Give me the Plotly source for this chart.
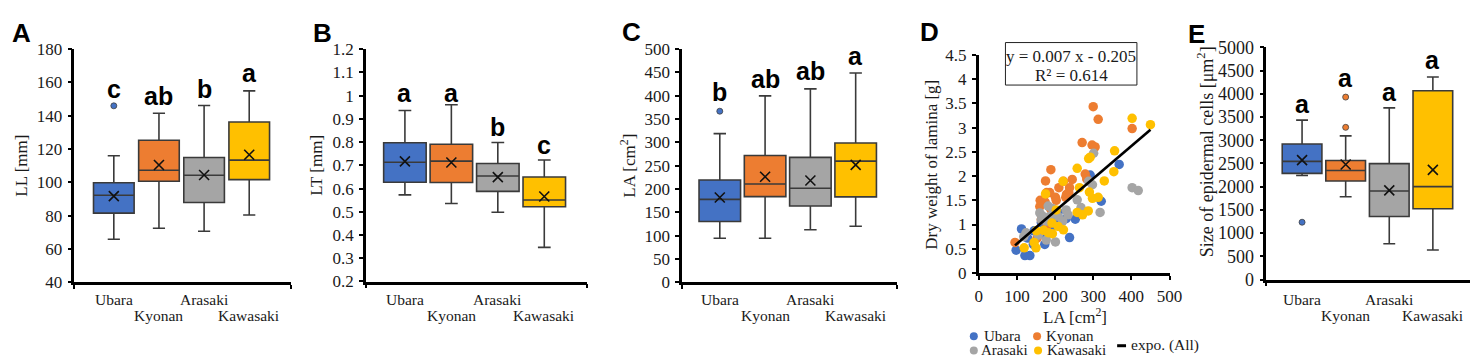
import numpy as np
import plotly.graph_objects as go

W, H = 1478, 360
SERIF = "Liberation Serif, Times New Roman, serif"
SANS = "Liberation Sans, Arial, sans-serif"
TXT = "#1a1a1a"

sites = ["Ubara", "Kyonan", "Arasaki", "Kawasaki"]
colors = ["#4472C4", "#ED7D31", "#A5A5A5", "#FFC000"]

# ---- Panel A: LL [mm]
ll_low = [65.9, 72.5, 70.7, 80.5]
ll_q1 = [81.6, 100.7, 88.0, 101.7]
ll_med = [92.3, 107.3, 104.3, 113.4]
ll_q3 = [99.8, 125.3, 115.0, 136.3]
ll_high = [116.0, 141.5, 146.2, 155.0]
ll_mean = [91.8, 110.5, 104.5, 116.6]
ll_out_site = [1]
ll_out_val = [146.0]
ll_letters = ["c", "ab", "b", "a"]
ll_letter_y = [150.0, 146.0, 150.0, 159.5]

# ---- Panel B: LT [mm]
lt_low = [0.573, 0.536, 0.498, 0.347]
lt_q1 = [0.627, 0.626, 0.588, 0.522]
lt_med = [0.713, 0.718, 0.654, 0.551]
lt_q3 = [0.797, 0.791, 0.708, 0.650]
lt_high = [0.936, 0.961, 0.798, 0.723]
lt_mean = [0.717, 0.712, 0.649, 0.566]
lt_letters = ["a", "a", "b", "c"]
lt_letter_y = [0.967, 0.967, 0.823, 0.746]

# ---- Panel C: LA [cm2]
la_low = [94.6, 94.6, 112.8, 120.3]
la_q1 = [130.5, 184.0, 164.0, 183.5]
la_med = [178.0, 211.0, 202.0, 260.0]
la_q3 = [219.5, 272.0, 268.0, 299.0]
la_high = [319.0, 400.0, 415.0, 449.0]
la_mean = [182.0, 226.5, 218.5, 252.0]
la_out_site = [1]
la_out_val = [367.0]
la_letters = ["b", "ab", "ab", "a"]
la_letter_y = [386.5, 415.5, 432.0, 463.0]

# ---- Panel E: size of epidermal cells [um2]
ec_low = [2239, 1784, 773, 638]
ec_q1 = [2286, 2123, 1357, 1526]
ec_med = [2544, 2347, 1906, 2001]
ec_q3 = [2917, 2564, 2497, 4064]
ec_high = [3433, 3094, 3697, 4362]
ec_mean = [2571, 2476, 1920, 2361]
ec_out_site = [1, 2, 2]
ec_out_val = [1235, 3277, 3928]
ec_letters = ["a", "a", "a", "a"]
ec_letter_y = [3562, 4125, 3833, 4512]

# ---- Panel D: scatter LA vs dry weight of lamina
ubara_la = [368, 292, 321, 253, 238, 229, 208, 195, 177, 173, 145, 112, 128, 143, 121, 134, 98, 164, 192, 208]
ubara_dw = [2.24, 2.02, 1.48, 1.11, 0.73, 1.12, 1.04, 0.98, 0.78, 0.59, 0.87, 0.91, 0.72, 0.59, 0.36, 0.36, 0.47, 1.04, 1.18, 1.25]
kyonan_la = [300, 313, 402, 271, 297, 305, 189, 279, 245, 175, 210, 238, 236, 186, 201, 171, 228, 203, 160, 188, 164, 177, 95, 153, 222, 283, 178, 230, 174, 161]
kyonan_dw = [3.43, 3.17, 2.98, 2.69, 2.64, 2.60, 2.13, 2.04, 1.93, 1.90, 1.76, 1.76, 1.66, 1.66, 1.56, 1.48, 1.56, 1.50, 1.37, 1.33, 1.10, 0.92, 0.63, 0.72, 1.89, 1.94, 1.66, 1.62, 1.46, 1.50]
arasaki_la = [301, 402, 418, 318, 258, 268, 298, 288, 182, 193, 160, 164, 168, 177, 208, 229, 234, 201, 177, 156, 118, 124, 186, 220]
arasaki_dw = [2.47, 1.76, 1.70, 1.25, 1.51, 1.35, 1.82, 1.89, 1.38, 1.33, 1.24, 1.10, 1.17, 1.07, 1.17, 1.30, 1.20, 0.64, 0.68, 0.78, 0.75, 0.83, 1.17, 1.07]
kawasaki_la = [450, 402, 356, 354, 292, 288, 258, 221, 329, 290, 298, 313, 175, 264, 258, 272, 287, 203, 192, 182, 170, 208, 222, 151, 145, 150, 119, 193]
kawasaki_dw = [3.06, 3.19, 2.52, 2.09, 2.39, 2.36, 2.16, 1.89, 1.90, 1.67, 1.54, 1.56, 1.63, 1.76, 1.25, 1.20, 1.28, 1.30, 1.03, 0.83, 0.88, 0.96, 0.89, 0.87, 0.63, 0.52, 0.52, 0.81]
eq_text = ["y = 0.007 x - 0.205", "R² = 0.614"]

pos = [1, 2, 3, 4]


def fx(px):
    return px / W


def fy(py):
    return 1 - py / H


fig = go.Figure()
annotations = []
shapes = []


def note(x, y, text, font, xanchor="center", yanchor="middle", **kw):
    d = dict(x=x, y=y, xref=kw.pop("xref", "paper"), yref=kw.pop("yref", "paper"), text=text,
             showarrow=False, xanchor=xanchor, yanchor=yanchor, font=font)
    d.update(kw)
    annotations.append(d)


axis_common = dict(showgrid=False, zeroline=False, showline=True, linecolor="black",
                   linewidth=2.5, ticks="outside", ticklen=4, tickwidth=2, tickcolor="black",
                   ticklabelstandoff=2,
                   tickfont=dict(family=SERIF, size=17, color=TXT))

box_panels = [
    dict(ax="", px=(63, 282), py=(33, 280), xr=(0.124, 4.92), yr=(40, 180), step=20, bw=0.9,
         low=ll_low, q1=ll_q1, med=ll_med, q3=ll_q3, high=ll_high, mean=ll_mean,
         out=(ll_out_site, ll_out_val), letters=ll_letters, ly=ll_letter_y,
         title="LL [mm]", tx=10, fmt="{:.0f}", fs=17),
    dict(ax="2", px=(358, 582), py=(33, 279), xr=(0.16, 4.926), yr=(0.2, 1.2), step=0.1, bw=0.915,
         low=lt_low, q1=lt_q1, med=lt_med, q3=lt_q3, high=lt_high, mean=lt_mean,
         out=([], []), letters=lt_letters, ly=lt_letter_y,
         title="LT [mm]", tx=308, fmt="{:g}", fs=17),
    dict(ax="3", px=(678, 895), py=(33, 280), xr=(0.17, 4.906), yr=(0, 500), step=50, bw=0.917,
         low=la_low, q1=la_q1, med=la_med, q3=la_q3, high=la_high, mean=la_mean,
         out=(la_out_site, la_out_val), letters=la_letters, ly=la_letter_y,
         title="LA [cm<sup>2</sup>]", tx=623, fmt="{:.0f}", fs=17),
    dict(ax="5", px=(1269, 1477), py=(31, 277), xr=(0.182, 4.898), yr=(0, 5000), step=500, bw=0.91,
         low=ec_low, q1=ec_q1, med=ec_med, q3=ec_q3, high=ec_high, mean=ec_mean,
         out=(ec_out_site, ec_out_val), letters=ec_letters, ly=ec_letter_y,
         title="Size of epidermal cells [μm<sup>2</sup>]", tx=1207, fmt="{:.0f}", fs=18),
]

layout_axes = {}
for p in box_panels:
    xa, ya = "x" + p["ax"], "y" + p["ax"]
    for i in range(4):
        fig.add_trace(go.Box(
            x=[pos[i]], q1=[p["q1"][i]], median=[p["med"][i]], q3=[p["q3"][i]],
            lowerfence=[p["low"][i]], upperfence=[p["high"][i]],
            width=p["bw"], whiskerwidth=0.3, fillcolor=colors[i],
            line=dict(color="#3a3a3a", width=1.6), boxpoints=False,
            xaxis=xa, yaxis=ya, showlegend=False, hoverinfo="skip"))
    fig.add_trace(go.Scatter(
        x=pos, y=p["mean"], mode="markers",
        marker=dict(symbol="x-thin", size=10, line=dict(color="#111", width=1.6)),
        xaxis=xa, yaxis=ya, showlegend=False, hoverinfo="skip"))
    if p["out"][0]:
        fig.add_trace(go.Scatter(
            x=p["out"][0], y=p["out"][1], mode="markers",
            marker=dict(size=6, color=[colors[s - 1] for s in p["out"][0]],
                        line=dict(color="#404040", width=0.8)),
            xaxis=xa, yaxis=ya, showlegend=False, hoverinfo="skip"))
    n = int(round((p["yr"][1] - p["yr"][0]) / p["step"]))
    tv = [round(p["yr"][0] + k * p["step"], 6) for k in range(n + 1)]
    yfont = dict(family=SERIF, size=p["fs"], color=TXT)
    layout_axes["xaxis" + p["ax"]] = dict(
        axis_common, domain=[fx(p["px"][0]), fx(p["px"][1])], range=list(p["xr"]),
        anchor=ya, tickvals=list(p["xr"]), showticklabels=False)
    layout_axes["yaxis" + p["ax"]] = dict(
        axis_common, domain=[fy(p["py"][1]), fy(p["py"][0])], range=list(p["yr"]),
        anchor=xa, tickvals=tv, ticktext=[p["fmt"].format(v) for v in tv], tickfont=yfont)
    for i in range(4):
        note(pos[i], p["ly"][i], p["letters"][i],
             dict(family=SANS, size=25, color="black", weight="bold"),
             yanchor="bottom", xref=xa, yref=ya, yshift=-6)
    for i in range(4):
        note(pos[i], fy(298 if i % 2 == 0 else 315), sites[i],
             dict(family=SERIF, size=15.5, color=TXT), xref=xa)
    ymid = (p["py"][0] + p["py"][1]) / 2
    if p["ax"] == "5":
        ymid = 142
    note(fx(p["tx"]), fy(ymid), p["title"], dict(family=SERIF, size=p["fs"], color=TXT), textangle=-90)

# ---- Scatter panel D
groups = [(ubara_la, ubara_dw), (kyonan_la, kyonan_dw), (arasaki_la, arasaki_dw), (kawasaki_la, kawasaki_dw)]
for i, (xs, ys) in enumerate(groups):
    fig.add_trace(go.Scatter(x=xs, y=ys, mode="markers",
                             marker=dict(size=9.5, color=colors[i], line=dict(width=0)),
                             xaxis="x4", yaxis="y4", showlegend=False, hoverinfo="skip"))
all_x = np.concatenate([np.array(g[0], float) for g in groups])
all_y = np.concatenate([np.array(g[1], float) for g in groups])
slope, icpt = np.polyfit(all_x, all_y, 1)
lx = np.array([all_x.min(), all_x.max()])
fig.add_trace(go.Scatter(x=lx, y=slope * lx + icpt, mode="lines",
                         line=dict(color="black", width=2.6),
                         xaxis="x4", yaxis="y4", showlegend=False, hoverinfo="skip"))

d_xt = [0, 100, 200, 300, 400, 500]
d_yt = [0, 0.5, 1, 1.5, 2, 2.5, 3, 3.5, 4, 4.5]
layout_axes["xaxis4"] = dict(axis_common, domain=[fx(978), fx(1171)], range=[0, 500], anchor="y4",
                             tickvals=d_xt, ticktext=[str(v) for v in d_xt])
layout_axes["yaxis4"] = dict(axis_common, domain=[fy(270), fy(39)], range=[0, 4.5], anchor="x4",
                             tickvals=d_yt, ticktext=["{:g}".format(v) for v in d_yt])
note(fx(930), fy(155), "Dry weight of lamina [g]", dict(family=SERIF, size=17, color=TXT), textangle=-90)
note(fx(1075), fy(315), "LA [cm<sup>2</sup>]", dict(family=SERIF, size=17, color=TXT), borderpad=0)
shapes.append(dict(type="rect", xref="paper", yref="paper", x0=fx(1005), x1=fx(1138),
                   y0=fy(71), y1=fy(26), line=dict(color="#222", width=1), fillcolor="white"))
note(fx(1071.5), fy(41), eq_text[0], dict(family=SERIF, size=17, color=TXT))
note(fx(1071.5), fy(61), eq_text[1], dict(family=SERIF, size=17, color=TXT))

leg = [(973, 337, 982, sites[0], colors[0]), (1037, 337, 1045, sites[1], colors[1]),
       (973, 352, 979, sites[2], colors[2]), (1038, 352, 1046, sites[3], colors[3])]
for cx, cy, tx, name, col in leg:
    shapes.append(dict(type="circle", xref="paper", yref="paper", xsizemode="pixel", ysizemode="pixel",
                       xanchor=fx(cx), yanchor=fy(cy), x0=-4, x1=4, y0=-4, y1=4,
                       fillcolor=col, line=dict(width=0)))
    note(fx(tx), fy(cy), name, dict(family=SERIF, size=15, color=TXT), xanchor="left", borderpad=0)
shapes.append(dict(type="line", xref="paper", yref="paper", x0=fx(1118), x1=fx(1127),
                   y0=fy(347), y1=fy(347), line=dict(color="black", width=3)))
note(fx(1130), fy(346), "expo. (All)", dict(family=SERIF, size=15.5, color=TXT), xanchor="left")

for lab, x, y in [("A", 10, 16), ("B", 314, 16), ("C", 627, 15), ("D", 928, 15), ("E", 1198, 17)]:
    note(fx(x), fy(y), lab, dict(family=SANS, size=26, color="black", weight="bold"))

fig.update_layout(width=W, height=H, margin=dict(l=0, r=0, t=0, b=0),
                  paper_bgcolor="white", plot_bgcolor="white", showlegend=False,
                  annotations=annotations, shapes=shapes, **layout_axes)

fig.write_html("out.html")
